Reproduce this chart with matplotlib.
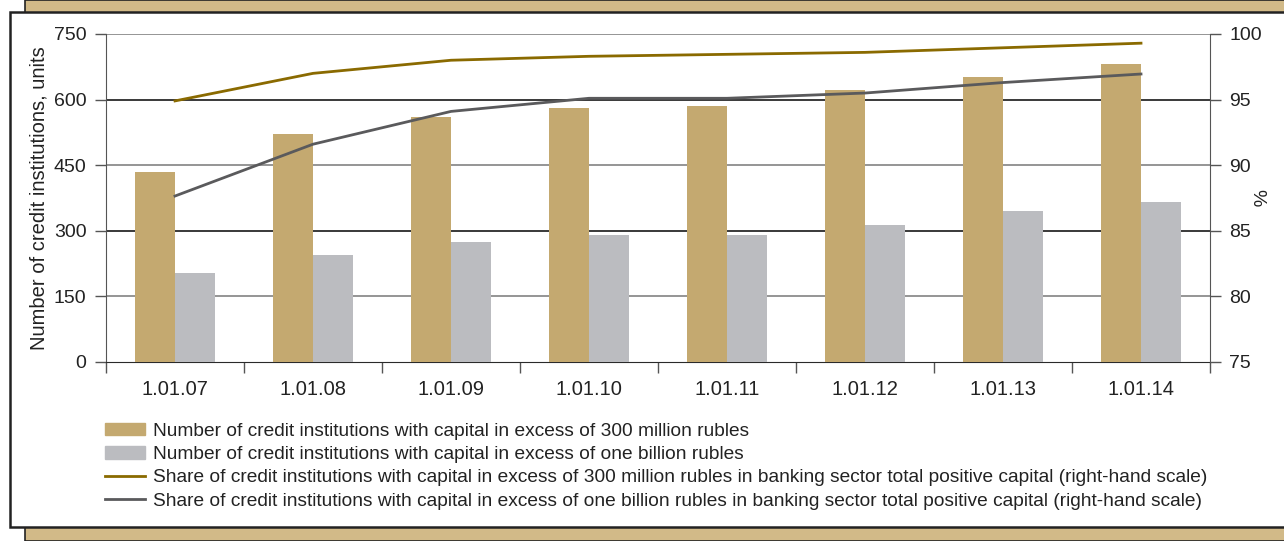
import numpy as np
import matplotlib.pyplot as plt
from matplotlib.patches import Rectangle
from matplotlib.lines import Line2D

dates = ['1.01.07', '1.01.08', '1.01.09', '1.01.10', '1.01.11', '1.01.12', '1.01.13', '1.01.14']
over_300m = [434, 521, 560, 581, 585, 622, 652, 681]
over_1bn = [204, 245, 274, 290, 290, 313, 345, 366]
share_300m = [94.9, 97.0, 98.0, 98.3, 98.45, 98.6, 98.95, 99.3]
share_1bn = [87.65, 91.6, 94.1, 95.1, 95.1, 95.5, 96.3, 96.95]

labels = [
    'Number of credit institutions with capital in excess of 300 million rubles',
    'Number of credit institutions with capital in excess of one billion rubles',
    'Share of credit institutions with capital in excess of 300 million rubles in banking sector total positive capital (right-hand scale)',
    'Share of credit institutions with capital in excess of one billion rubles in banking sector total positive capital (right-hand scale)',
]

tan = '#C4A970'
grey_bar = '#BBBCC0'
gold_line = '#8A6A00'
grey_line = '#5A5A5C'
bg_tan = '#D2BA88'

plt.rcParams['font.family'] = ['Liberation Sans', 'DejaVu Sans']
plt.rcParams['font.size'] = 14

fig = plt.figure(figsize=(12.84, 5.41), dpi=100)
fig.patch.set_facecolor('white')
W, H = 1284, 541

# tan panel behind, white box in front
fig.patches.append(Rectangle((25 / W, 0), 1.0, 1.0, transform=fig.transFigure,
                             facecolor=bg_tan, edgecolor='#222222', linewidth=1.2, zorder=0))
fig.patches.append(Rectangle((10 / W, 14 / H), 1.1, (527 - 12) / H, transform=fig.transFigure,
                             facecolor='white', edgecolor='#222222', linewidth=1.8, zorder=1))

ax = fig.add_axes([106 / W, 1 - 362 / H, (1210 - 106) / W, (362 - 34) / H])
ax.set_zorder(3)
ax2 = ax.twinx()
ax2.set_zorder(4)
ax.patch.set_visible(False)

x = np.arange(len(dates))
w = 0.29
ax.bar(x - w / 2, over_300m, width=w, color=tan, zorder=3)
ax.bar(x + w / 2, over_1bn, width=w, color=grey_bar, zorder=3)

ax.set_xlim(-0.5, len(dates) - 0.5)
ax.set_ylim(0, 750)
ax.set_yticks([0, 150, 300, 450, 600, 750])
for v in [150, 450, 750]:
    ax.axhline(v, color='#8C8C8C', linewidth=1.3, zorder=1)
for v in [300, 600]:
    ax.axhline(v, color='#2A2A2A', linewidth=1.3, zorder=1)

ax.set_xticks(np.arange(len(dates) + 1) - 0.5)
ax.set_xticklabels([])
ax.set_xticks(x, minor=True)
ax.set_xticklabels(dates, minor=True)
ax.tick_params(axis='x', which='major', length=8, width=1, color='#555555', direction='out')
ax.tick_params(axis='x', which='minor', length=0, pad=13, labelcolor='#222222', labelsize=14.5)
ax.tick_params(axis='y', length=8, width=1, color='#555555', labelcolor='#222222', pad=6)

ax.set_ylabel('Number of credit institutions, units', color='#222222', labelpad=4, fontsize=14.5)

ax2.plot(x, share_300m, color=gold_line, linewidth=2)
ax2.plot(x, share_1bn, color=grey_line, linewidth=2)
ax2.set_ylim(75, 100)
ax2.set_yticks([75, 80, 85, 90, 95, 100])
ax2.tick_params(axis='y', length=8, width=1, color='#555555', labelcolor='#222222', pad=6)
ax2.set_ylabel('%', rotation=270, color='#222222', labelpad=2)

for a in (ax, ax2):
    for s in ['top', 'right']:
        a.spines[s].set_visible(False)
    a.spines['left'].set_color('#555555')
    a.spines['bottom'].set_color('#2A2A2A')
ax2.spines['left'].set_visible(False)
ax2.spines['bottom'].set_visible(False)
ax2.spines['right'].set_visible(True)
ax2.spines['right'].set_color('#555555')

handles = [
    Rectangle((0, 0), 1, 1, color=tan),
    Rectangle((0, 0), 1, 1, color=grey_bar),
    Line2D([], [], color=gold_line, linewidth=2),
    Line2D([], [], color=grey_line, linewidth=2),
]
leg = fig.legend(handles, labels, loc='upper left', bbox_to_anchor=(95 / W, 1 - 413 / H),
                 frameon=False, fontsize=13.8, handlelength=2.1, handleheight=0.65,
                 labelspacing=0.32, handletextpad=0.45, borderpad=0)
for t in leg.get_texts():
    t.set_color('#222222')

fig.savefig('out.png', dpi=100, facecolor=fig.get_facecolor())
